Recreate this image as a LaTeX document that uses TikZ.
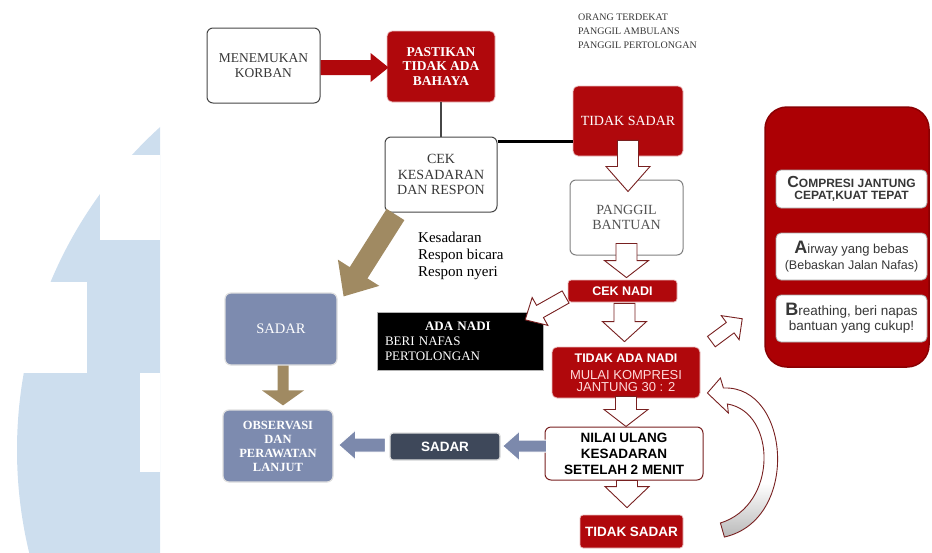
\documentclass[tikz,border=0pt]{standalone}
\usepackage{fontspec}
\setmainfont{Liberation Serif}
\setsansfont{Liberation Sans}
\usetikzlibrary{calc}

\definecolor{boxred}{RGB}{176,8,12}
\definecolor{panelred}{RGB}{172,0,4}
\definecolor{darkred}{RGB}{120,32,32}
\definecolor{tanbrown}{RGB}{160,138,98}
\definecolor{slate}{RGB}{125,139,175}
\definecolor{darkslate}{RGB}{62,72,90}
\definecolor{arrowblue}{RGB}{124,137,172}
\definecolor{wmark}{RGB}{205,222,238}
\definecolor{boxgray}{RGB}{70,70,70}
\definecolor{textgray}{RGB}{55,55,55}

\newcommand{\fsz}[2]{\fontsize{#1}{#2}\selectfont}

\pgfdeclareverticalshading{loopshade}{100bp}{color(0bp)=(gray!55);
  color(25bp)=(gray!55); color(42bp)=(white); color(100bp)=(white)}

\tikzset{
  blockarrow/.style n args={3}{to path={
      ($(\tikztostart)!#1!90:(\tikztotarget)$)
      -- ($(\tikztotarget)!#3!(\tikztostart)!#1!-90:(\tikztostart)$)
      -- ($(\tikztotarget)!#3!(\tikztostart)!#2!-90:(\tikztostart)$)
      -- (\tikztotarget)
      -- ($(\tikztotarget)!#3!(\tikztostart)!#2!90:(\tikztostart)$)
      -- ($(\tikztotarget)!#3!(\tikztostart)!#1!90:(\tikztostart)$)
      -- ($(\tikztostart)!#1!-90:(\tikztotarget)$) -- cycle}},
  hollow/.style={draw=darkred, line width=0.9pt, fill=white, line join=miter,
    blockarrow={10.5pt}{22pt}{#1}},
  hollow/.default=20pt,
  box/.style={draw=boxgray, line width=1pt, rounded corners=6pt, fill=white,
    align=center, text=textgray, inner sep=0pt},
  redbox/.style={draw=white!75!boxred, line width=0.8pt, fill=boxred,
    rounded corners=5pt, align=center, text=white, inner sep=0pt},
  slatebox/.style={draw=white!75!gray, line width=1.2pt, fill=slate,
    rounded corners=6pt, align=center, text=white, inner sep=0pt},
  tipbox/.style={draw=gray!70, line width=0.8pt, fill=white, rounded corners=5pt,
    align=center, text=textgray, inner sep=0pt, font=\sffamily,
    minimum width=151pt},
}

\begin{document}
\begin{tikzpicture}[x=1pt,y=1pt]
  \useasboundingbox (0,0) rectangle (932,-552);

  % watermark
  \begin{scope}
    \clip (0,0) rectangle (160,-552);
    \fill[wmark] (453,-450) circle (436pt);
    \fill[white] (100,-155) rectangle (160,-240);
    \fill[white] (0,-282) rectangle (87,-373);
    \fill[white] (140,-373) rectangle (160,-472);
  \end{scope}

  % boxes
  \node[box, minimum width=113pt, minimum height=75pt, font=\fsz{13.5}{15}]
    (find) at (263.5,-65.5) {MENEMUKAN\\KORBAN};
  \node[redbox, minimum width=108pt, minimum height=71pt, font=\bfseries\fsz{13.5}{14.5}]
    (safe) at (441,-66.5) {PASTIKAN\\TIDAK ADA\\BAHAYA};
  \node[box, minimum width=112pt, minimum height=75pt, font=\fsz{14}{15.5}]
    (cek) at (441,-174.5) {CEK\\KESADARAN\\DAN RESPON};
  \node[redbox, minimum width=110pt, minimum height=70pt, font=\fsz{14}{16}]
    (tsadar) at (628,-121) {TIDAK SADAR};
  \node[box, draw=gray, minimum width=113pt, minimum height=75pt, text=gray!65!black,
    font=\fsz{14}{15}] (panggil) at (626.5,-217.5) {PANGGIL\\BANTUAN};
  \node[redbox, minimum width=109pt, minimum height=22pt, rounded corners=3pt,
    font=\sffamily\bfseries\fsz{12.5}{14}] (ceknadi) at (622.5,-291) {CEK NADI};
  \node[redbox, minimum width=148pt, minimum height=51pt, font=\sffamily\fsz{13}{12}]
    (nadi) at (626,-372.5)
    {\textbf{\fsz{12.5}{14}TIDAK ADA NADI}\\[5pt]
     \textcolor{white!85!red}{MULAI KOMPRESI}\\\textcolor{white!85!red}{JANTUNG 30 : 2}};
  \node[box, draw=darkred, minimum width=158pt, minimum height=53pt, text=black,
    font=\sffamily\bfseries\fsz{13.5}{16}] (nilai) at (624,-453.5)
    {NILAI ULANG\\KESADARAN\\SETELAH 2 MENIT};
  \node[redbox, minimum width=103pt, minimum height=33pt, rounded corners=3pt,
    font=\sffamily\bfseries\fsz{13.5}{15}] (tsadarb) at (631.5,-531.5) {TIDAK SADAR};

  \node[slatebox, minimum width=112pt, minimum height=72pt, font=\fsz{14.5}{16}]
    (sadar) at (281,-329) {SADAR};
  \node[slatebox, minimum width=110pt, minimum height=72pt,
    font=\bfseries\fsz{12.5}{14}] (obs) at (278,-446)
    {OBSERVASI\\DAN\\PERAWATAN\\LANJUT};
  \node[fill=darkslate, draw=white!75!gray, line width=1.2pt, rounded corners=3pt,
    minimum width=110pt, minimum height=27pt, inner sep=0pt, text=white,
    font=\sffamily\bfseries\fsz{13.5}{15}] (sadardk) at (445,-446.5) {SADAR};
  \node[fill=black, draw=gray!60, minimum width=166pt, minimum height=58pt,
    text width=150pt, align=left, text=white, font=\fsz{13}{15}]
    (adanadi) at (460,-341)
    {\hspace*{40pt}\textbf{ADA NADI}\\BERI NAFAS\\PERTOLONGAN};

  % texts
  \node[anchor=north west, inner sep=0pt, align=left, text=textgray,
    font=\fsz{10}{14}] (note) at (578,-14)
    {ORANG TERDEKAT\\PANGGIL AMBULANS\\PANGGIL PERTOLONGAN};
  \node[anchor=north west, inner sep=0pt, align=left, font=\fsz{15}{17}]
    (checks) at (418,-232) {Kesadaran\\Respon bicara\\Respon nyeri};

  % right panel
  \node[fill=panelred, draw=panelred!80!black, line width=1.5pt, rounded corners=22pt,
    minimum width=164pt, minimum height=260pt] (panel) at (847,-237) {};
  \node[tipbox, minimum height=38pt, font=\sffamily\bfseries\fsz{12}{12.5}]
    (cbox) at (851.5,-189) {{\fsz{16}{16}C}OMPRESI JANTUNG\\CEPAT,KUAT TEPAT};
  \node[tipbox, minimum height=47pt, font=\sffamily\fsz{13}{14}]
    (abox) at (851.5,-256.5)
    {{\bfseries\fsz{18}{18}A}irway yang bebas\\[2pt]{\fsz{12.5}{14}(Bebaskan Jalan Nafas)}};
  \node[tipbox, minimum height=47pt, font=\sffamily\fsz{13.5}{15}]
    (bbox) at (851.5,-318.5)
    {{\bfseries\fsz{18}{18}B}reathing, beri napas\\bantuan yang cukup!};

  % connectors
  \draw[boxgray, line width=1.2pt] (safe.south) -- (cek.north);
  \coordinate (cekr) at ($(cek.north east)+(0,-5)$);
  \draw[black, line width=2.6pt] (cekr) -- (cekr -| tsadar.west);

  \coordinate (r1) at ($(find.east)+(0,-2)$);
  \coordinate (r2) at ($(safe.west)+(2,-1)$);
  \fill[boxred, blockarrow={7.5pt}{14.5pt}{18pt}] (r1) to (r2);

  \coordinate (a1) at ($(tsadar.south)+(0,16)$);
  \coordinate (a2) at ($(a1 |- panggil.north)+(0,-12)$);
  \draw[hollow=25pt] (a1) to (a2);
  \coordinate (b1) at ($(panggil.south)+(0,12)$);
  \coordinate (b2) at ($(b1 |- ceknadi.north)+(0,2)$);
  \draw[hollow=17pt] (b1) to (b2);
  \coordinate (c1) at ($(ceknadi.south)+(2,-1)$);
  \coordinate (c2) at ($(c1 |- nadi.north)+(0,5)$);
  \draw[hollow] (c1) to (c2);
  \coordinate (d1) at ($(nadi.south)+(0,2)$);
  \coordinate (d2) at (d1 |- nilai.north);
  \draw[hollow=17pt] (d1) to (d2);
  \coordinate (e1) at ($(nilai.south)+(3,0)$);
  \coordinate (e2) at ($(e1 |- tsadarb.north)+(0,7)$);
  \draw[hollow=21pt] (e1) to (e2);

  \coordinate (l1) at ($(ceknadi.west)+(-2,-6)$);
  \coordinate (l2) at ($(adanadi.north east)+(-18,-8)$);
  \draw[draw=darkred, line width=0.9pt, fill=white, blockarrow={7pt}{16pt}{17pt}] (l1) to (l2);
  \coordinate (u1) at ($(nadi.north east)+(11,5)$);
  \coordinate (u2) at ($(panel.south west)+(-22,49)$);
  \draw[draw=darkred, line width=0.9pt, fill=white, blockarrow={6.5pt}{15pt}{15pt}] (u1) to (u2);

  \coordinate (k1) at ($(cek.south west)+(11,-2)$);
  \coordinate (k2) at ($(sadar.north east)+(6,-4)$);
  \fill[tanbrown, blockarrow={10.5pt}{24.5pt}{28pt}] (k1) to (k2);
  \coordinate (k3) at ($(sadar.south)+(2,0)$);
  \coordinate (k4) at ($(k3 |- obs.north)+(0,4)$);
  \fill[tanbrown, blockarrow={5.5pt}{21pt}{15pt}] (k3) to (k4);

  \coordinate (s1) at ($(nilai.west)+(2,7.5)$);
  \coordinate (s2) at ($(s1 -| sadardk.east)+(2,0)$);
  \draw[draw=white, line width=1pt, fill=arrowblue, blockarrow={6pt}{15pt}{17pt}] (s1) to (s2);
  \coordinate (s3) at ($(sadardk.west)+(-4,1.5)$);
  \coordinate (s4) at ($(s3 -| obs.east)+(5,0)$);
  \draw[draw=white, line width=1pt, fill=arrowblue, blockarrow={7pt}{15pt}{17pt}] (s3) to (s4);

  % loop back arrow
  \begin{scope}[shift={(nadi.east)}]
    \path[draw=darkred, line width=0.9pt, shading=loopshade]
      (20,-5.5) -- (23,-15.5) .. controls (90,-12.5) and (100,-147.5) .. (24,-164.5)
      -- (20,-150.5) .. controls (78,-132.5) and (76,-39.5) .. (27,-31.5)
      -- (28,-40.5) -- (7,-20.5) -- cycle;
  \end{scope}
\end{tikzpicture}
\end{document}
